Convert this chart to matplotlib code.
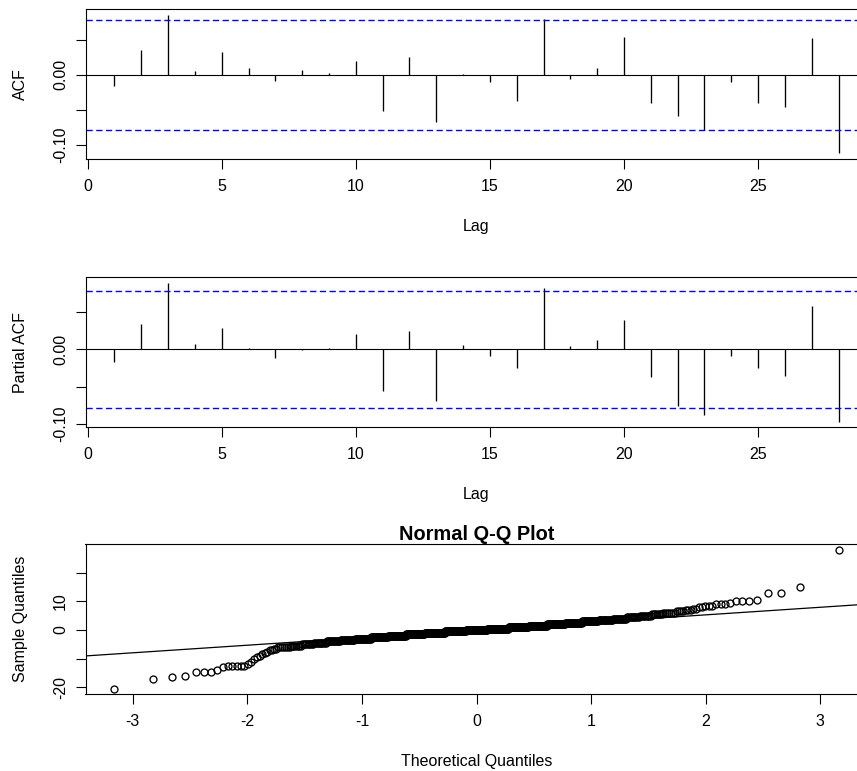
import statistics
import numpy as np
import matplotlib
matplotlib.use("Agg")
import matplotlib.pyplot as plt

plt.rcParams["font.family"] = ["Liberation Sans", "DejaVu Sans"]
plt.rcParams["font.size"] = 11.5
plt.rcParams["axes.unicode_minus"] = False

# correlogram values
lags = list(range(1, 29))
acf_vals = [-0.016, 0.035, 0.0858, 0.005, 0.033, 0.009, -0.009, 0.0075, 0.003, 0.020,
            -0.052, 0.026, -0.067, 0.001, -0.010, -0.037, 0.079, -0.006, 0.009, 0.054,
            -0.040, -0.0585, -0.079, -0.010, -0.040, -0.046, 0.052, -0.112]
pacf_vals = [-0.017, 0.034, 0.089, 0.0066, 0.028, 0.002, -0.0115, -0.001, 0.002, 0.020,
             -0.055, 0.024, -0.069, 0.006, -0.009, -0.025, 0.082, 0.004, 0.012, 0.040,
             -0.037, -0.076, -0.088, -0.009, -0.025, -0.035, 0.058, -0.0967]
conf_limit = 0.0779

# residual sample for the Q-Q plot (sorted): tails as read point by point,
# bulk as value levels with how many points sit on each level
low_tail = [-20.5, -17.0, -16.5, -16.0, -14.5, -14.5, -14.5, -14.0, -13.0,
            -12.5, -12.5, -12.5, -12.5, -12.5, -12.0, -11.0, -10.0, -9.5, -9.0,
            -8.5, -8.0, -7.5, -7.0, -7.0, -6.5, -6.5, -6.0, -6.0]
bulk_levels = [-6.0, -5.5, -5.0, -4.5, -4.0, -3.5, -3.0, -2.5, -2.0, -1.5, -1.0, -0.5,
               0.0, 0.5, 1.0, 1.5, 2.0, 2.5, 3.0, 3.5, 4.0, 4.5, 5.0, 5.5, 6.0]
bulk_counts = [5, 7, 9, 11, 14, 17, 22, 26, 31, 36, 42, 45,
               47, 46, 41, 36, 31, 26, 22, 17, 14, 11, 9, 7, 5]
high_tail = [6.0, 6.0, 6.5, 6.5, 6.5, 6.5, 7.0, 7.0, 7.0, 7.5, 7.5, 8.0, 8.0,
             8.5, 8.5, 8.5, 9.0, 9.0, 9.0, 9.5, 10.0, 10.0, 10.0, 10.5,
             13.0, 13.0, 15.0, 28.0]
qq_slope = 2.65
qq_intercept = 0.0

W, H = 857, 771
LEFT, RIGHT = 85.5, 867.5


def make_axes(fig, top, bottom):
    ax = fig.add_axes([LEFT / W, 1 - bottom / H, (RIGHT - LEFT) / W, (bottom - top) / H])
    for s in ax.spines.values():
        s.set_linewidth(0.8)
    ax.tick_params(direction="out", length=7.5, width=0.8, colors="black")
    ax.tick_params(axis="x", pad=7)
    ax.tick_params(axis="y", pad=5)
    return ax


def pad_range(lo, hi):
    d = 0.04 * (hi - lo)
    return lo - d, hi + d


def corr_panel(ax, vals, ylabel):
    ax.vlines(lags, 0, vals, color="black", lw=0.95)
    ax.axhline(0, color="black", lw=0.8)
    for c in (conf_limit, -conf_limit):
        ax.axhline(c, color="blue", lw=1.0, ls=(0, (4.5, 2.5)))
    ax.set_xlim(*pad_range(min(lags), max(lags)))
    ax.set_ylim(*pad_range(min(min(vals), -conf_limit), max(max(vals), conf_limit)))
    ax.set_xticks([0, 5, 10, 15, 20, 25])
    ax.set_yticks([-0.10, -0.05, 0.0, 0.05])
    ax.set_yticklabels(["-0.10", "", "0.00", ""])
    plt.setp(ax.get_yticklabels(), rotation=90, va="center")
    ax.set_xlabel("Lag", va="center")
    ax.xaxis.set_label_coords(0.5, -0.45)
    ax.set_ylabel(ylabel, va="center")
    ax.yaxis.set_label_coords(-0.083, 0.5)


fig = plt.figure(figsize=(W / 100, H / 100), dpi=100)

ax1 = make_axes(fig, 9, 159)
corr_panel(ax1, acf_vals, "ACF")

ax2 = make_axes(fig, 277.3, 427.3)
corr_panel(ax2, pacf_vals, "Partial ACF")

# Normal Q-Q
sample = np.concatenate([low_tail, np.repeat(bulk_levels, bulk_counts), high_tail])
n = len(sample)
nd = statistics.NormalDist()
theo = np.array([nd.inv_cdf((i - 0.5) / n) for i in range(1, n + 1)])

ax3 = make_axes(fig, 544.3, 694.3)
ax3.plot(theo, sample, ls="none", marker="o", ms=5.0, mfc="none", mec="black", mew=0.95)
ax3.axline((0, qq_intercept), slope=qq_slope, color="black", lw=0.9)
ax3.set_xlim(*pad_range(theo.min(), theo.max()))
ax3.set_ylim(*pad_range(sample.min(), sample.max()))
ax3.set_xticks([-3, -2, -1, 0, 1, 2, 3])
ax3.set_yticks([-20, -10, 0, 10, 20])
ax3.set_yticklabels(["-20", "", "0", "10", ""])
plt.setp(ax3.get_yticklabels(), rotation=90, va="center")
ax3.set_title("Normal Q-Q Plot", fontsize=14.4, fontweight="bold", pad=2)
ax3.set_xlabel("Theoretical Quantiles", va="center")
ax3.xaxis.set_label_coords(0.5, -0.445)
ax3.set_ylabel("Sample Quantiles", va="center")
ax3.yaxis.set_label_coords(-0.083, 0.5)

fig.savefig("out.png", dpi=100)
